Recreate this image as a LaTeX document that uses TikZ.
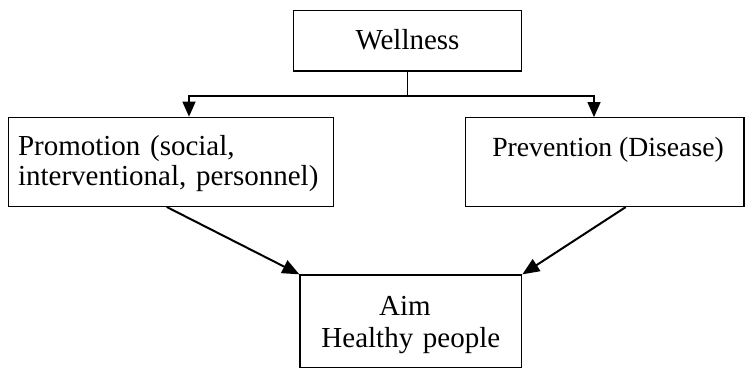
\documentclass[tikz,border=0pt]{standalone}
\usepackage{fontspec}
\setmainfont{Liberation Serif}
\usetikzlibrary{arrows.meta}
\begin{document}
\begin{tikzpicture}[x=1pt,y=-1pt,
  box/.style={draw, line width=1.3pt, rectangle, inner sep=0pt},
  ln/.style={line width=1.3pt},
  twoway/.style={line width=1.3pt, {Triangle[length=15pt,width=13pt]}-{Triangle[length=15pt,width=13pt]}},
  darr/.style={line width=2pt, -{Triangle[length=17pt,width=14pt]}},
  txt/.style={font=\fontsize{29pt}{30pt}\selectfont}]
\useasboundingbox (0,0) rectangle (745,369);

\node[box, txt, minimum width=228.4pt, minimum height=60.3pt,
      text height=17pt, text depth=0pt] (well) at (407.5,40.85) {Wellness};

\node[box, txt, minimum width=324.8pt, minimum height=89pt,
      text width=305.8pt, align=left, text height=20pt, text depth=33.6pt]
      (promo) at (170.9,161.8) {Promotion (social,\\interventional, personnel)};

\node[box, font=\fontsize{27.7pt}{30pt}\selectfont, minimum width=278.3pt, minimum height=88.7pt,
      text height=20pt, text depth=30.8pt]
      (prev) at (604.85,162.1) {\hspace*{6.4pt}Prevention (Disease)};

\node[box, font=\fontsize{29pt}{32pt}\selectfont, minimum width=221.7pt, minimum height=92.3pt,
      text width=210pt, align=center, text height=20pt, text depth=32.3pt]
      (aim) at (410.85,321.15) {Aim\kern12pt\\Healthy people};

\coordinate (jl) at (189,96);
\coordinate (jr) at (594,96);
\coordinate (pa) at (166.7,0);
\coordinate (pb) at (625.7,0);

\draw[ln] (well.south) -- (well.south |- jl);
\draw[twoway] (jl |- promo.north) -- (jl) -- (jr) -- (jr |- prev.north);
\draw[darr] (promo.south -| pa) -- (aim.north west);
\draw[darr] (prev.south -| pb) -- (aim.north east);
\end{tikzpicture}
\end{document}
